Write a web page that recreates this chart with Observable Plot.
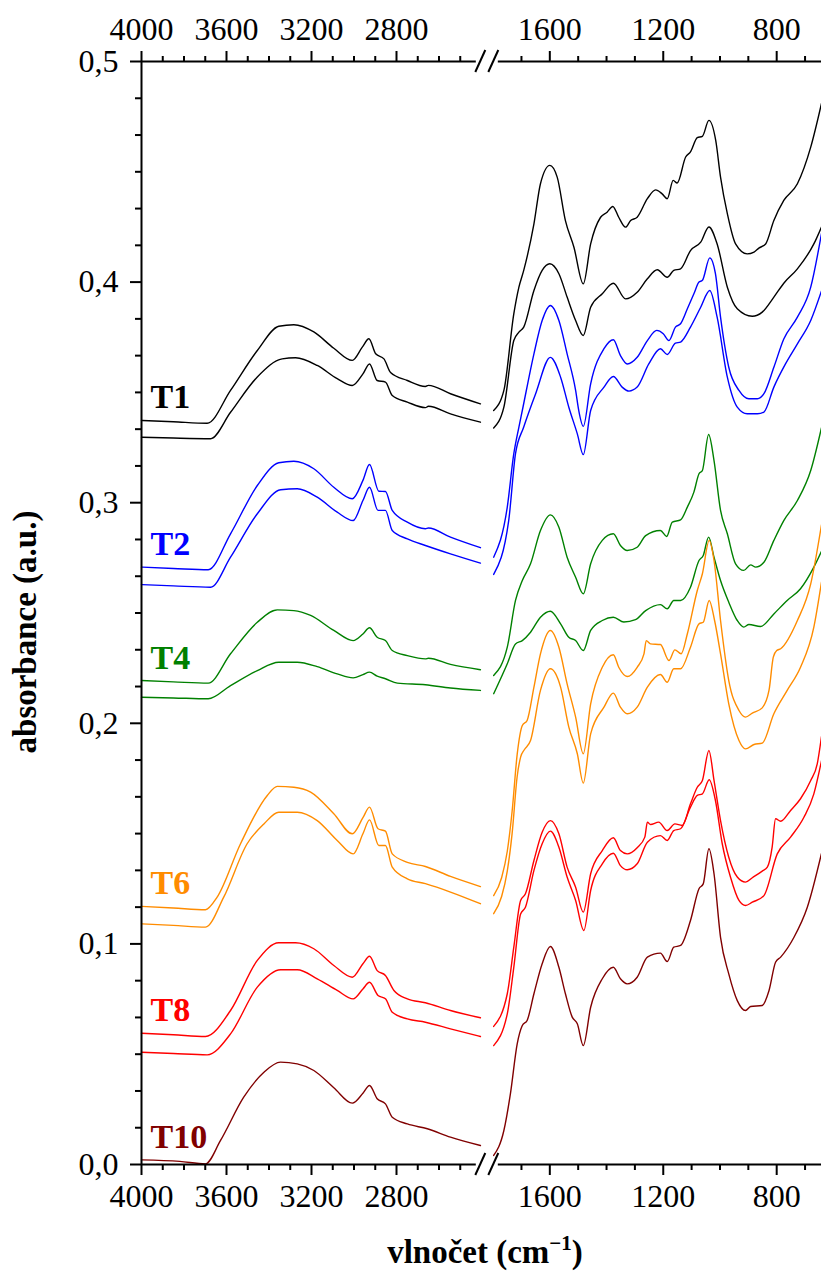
<!DOCTYPE html>
<html><head><meta charset="utf-8">
<script src="https://cdn.jsdelivr.net/npm/d3@7"></script>
<script src="https://cdn.jsdelivr.net/npm/@observablehq/plot@0.6"></script>
<style>
body{margin:0;background:#fff}
#chart{width:821px;height:1279px}
</style>
</head><body><div id="chart"></div>
<script>
// ---------- categories / ticks ----------
const samples = ["T1", "T2", "T4", "T6", "T8", "T10"];
const sampleColors = ["#000000", "#0000ff", "#008000", "#ff8c00", "#ff0000", "#800000"];
const xTicksMajor = [4000, 3600, 3200, 2800, 1600, 1200, 800];
const xTicksMinor = [3900, 3800, 3700, 3500, 3400, 3300, 3100, 3000, 2900, 2700, 2600, 2500, 1700, 1500, 1400, 1300, 1100, 1000, 900, 700];
const yTicksMajor = [0, 0.1, 0.2, 0.3, 0.4, 0.5];
const leftPanel = [4000, 2400];
const rightPanel = [1800, 642];

// ---------- spectra: [wavenumber, absorbance] ----------
const T1a_L = [[4000,0.3373],[3850,0.3367],[3691,0.3360],[3581,0.3509],[3455,0.3690],[3354,0.3800],[3283,0.3807],[3189,0.3774],[3095,0.3700],[3008,0.3645],[2961,0.3705],[2930,0.3743],[2898,0.3675],[2859,0.3652],[2828,0.3590],[2749,0.3554],[2664,0.3527],[2650,0.3532],[2546,0.3494],[2405,0.3448]];
const T1b_L = [[4000,0.3297],[3850,0.3293],[3675,0.3290],[3581,0.3410],[3455,0.3570],[3338,0.3652],[3275,0.3657],[3173,0.3622],[3079,0.3562],[3008,0.3531],[2958,0.3584],[2927,0.3629],[2891,0.3554],[2852,0.3547],[2820,0.3486],[2749,0.3456],[2664,0.3431],[2650,0.3437],[2546,0.3403],[2405,0.3365]];
const T2a_L = [[4000,0.2708],[3850,0.2702],[3686,0.2696],[3581,0.2859],[3455,0.3078],[3354,0.3181],[3283,0.3188],[3189,0.3154],[3095,0.3070],[3008,0.3018],[2958,0.3101],[2927,0.3173],[2883,0.3052],[2852,0.3051],[2820,0.2965],[2749,0.2912],[2664,0.2882],[2650,0.2885],[2546,0.2844],[2405,0.2796]];
const T2b_L = [[4000,0.2629],[3850,0.2623],[3675,0.2617],[3581,0.2753],[3455,0.2950],[3345,0.3059],[3267,0.3063],[3173,0.3025],[3079,0.2957],[3004,0.2919],[2958,0.3010],[2927,0.3070],[2887,0.2965],[2852,0.2965],[2820,0.2874],[2749,0.2836],[2664,0.2806],[2546,0.2768],[2405,0.2726]];
const T4a_L = [[4000,0.2194],[3850,0.2188],[3686,0.2182],[3581,0.2315],[3455,0.2458],[3361,0.2514],[3283,0.2511],[3204,0.2489],[3095,0.2421],[3004,0.2375],[2958,0.2405],[2927,0.2433],[2891,0.2390],[2852,0.2375],[2820,0.2330],[2749,0.2307],[2664,0.2292],[2650,0.2295],[2546,0.2267],[2405,0.2243]];
const T4b_L = [[4000,0.2118],[3850,0.2115],[3686,0.2111],[3581,0.2171],[3455,0.2239],[3354,0.2277],[3267,0.2277],[3173,0.2257],[3079,0.2224],[3004,0.2206],[2958,0.2221],[2927,0.2232],[2891,0.2214],[2852,0.2202],[2796,0.2182],[2664,0.2175],[2546,0.2160],[2405,0.2149]];
const T6a_L = [[4000,0.1170],[3850,0.1163],[3699,0.1155],[3644,0.1212],[3534,0.1454],[3408,0.1673],[3361,0.1714],[3283,0.1710],[3204,0.1688],[3095,0.1590],[3008,0.1499],[2958,0.1572],[2927,0.1620],[2887,0.1522],[2852,0.1511],[2820,0.1408],[2749,0.1370],[2664,0.1351],[2546,0.1306],[2405,0.1260]];
const T6b_L = [[4000,0.1091],[3850,0.1084],[3699,0.1076],[3613,0.1212],[3503,0.1454],[3424,0.1544],[3354,0.1597],[3267,0.1597],[3173,0.1559],[3079,0.1469],[3004,0.1408],[2958,0.1499],[2927,0.1562],[2883,0.1446],[2852,0.1446],[2820,0.1348],[2749,0.1295],[2664,0.1273],[2546,0.1235],[2405,0.1182]];
const T8a_L = [[4000,0.0595],[3850,0.0588],[3699,0.0580],[3581,0.0698],[3455,0.0925],[3354,0.1005],[3275,0.1005],[3189,0.0978],[3095,0.0902],[3008,0.0849],[2958,0.0910],[2927,0.0944],[2891,0.0879],[2852,0.0857],[2812,0.0789],[2749,0.0751],[2664,0.0733],[2546,0.0698],[2405,0.0665]];
const T8b_L = [[4000,0.0509],[3850,0.0503],[3691,0.0497],[3581,0.0592],[3455,0.0804],[3345,0.0883],[3267,0.0883],[3173,0.0842],[3079,0.0789],[3004,0.0751],[2958,0.0796],[2927,0.0826],[2887,0.0766],[2852,0.0751],[2820,0.0690],[2749,0.0660],[2664,0.0645],[2546,0.0615],[2405,0.0580]];
const T10_L = [[4000,0.0021],[3820,0.0014],[3699,0.0003],[3628,0.0109],[3519,0.0305],[3424,0.0418],[3346,0.0464],[3267,0.0456],[3189,0.0426],[3095,0.0348],[3008,0.0278],[2958,0.0323],[2927,0.0358],[2891,0.0298],[2852,0.0275],[2820,0.0214],[2749,0.0184],[2655,0.0162],[2546,0.0124],[2405,0.0086]];

const T1a_R = [[1798,0.3418],[1762,0.3509],[1727,0.3856],[1709,0.3977],[1692,0.4053],[1656,0.4264],[1633,0.4446],[1600,0.4529],[1574,0.4476],[1545,0.4279],[1515,0.4158],[1482,0.3992],[1456,0.4173],[1421,0.4294],[1398,0.4317],[1378,0.4343],[1357,0.4294],[1333,0.4249],[1315,0.4279],[1292,0.4294],[1256,0.4378],[1227,0.4418],[1204,0.4400],[1186,0.4378],[1165,0.4461],[1151,0.4449],[1121,0.4567],[1104,0.4590],[1080,0.4655],[1062,0.4661],[1039,0.4733],[1015,0.4642],[998,0.4476],[974,0.4310],[945,0.4173],[904,0.4128],[880,0.4136],[863,0.4154],[839,0.4173],[810,0.4279],[775,0.4370],[727,0.4446],[680,0.4612],[642,0.4810]];
const T1b_R = [[1798,0.3339],[1762,0.3433],[1727,0.3735],[1709,0.3773],[1692,0.3796],[1656,0.3962],[1627,0.4053],[1600,0.4083],[1568,0.4038],[1539,0.3932],[1509,0.3826],[1482,0.3758],[1456,0.3886],[1415,0.3947],[1376,0.3995],[1333,0.3924],[1292,0.3954],[1256,0.4015],[1221,0.4056],[1186,0.4022],[1163,0.4053],[1139,0.4060],[1104,0.4143],[1068,0.4181],[1039,0.4250],[1010,0.4173],[974,0.3977],[939,0.3879],[886,0.3845],[851,0.3864],[810,0.3932],[775,0.3995],[727,0.4060],[669,0.4173],[642,0.4250]];
const T2a_R = [[1798,0.2753],[1750,0.2980],[1727,0.3222],[1709,0.3343],[1697,0.3418],[1656,0.3675],[1627,0.3826],[1598,0.3894],[1568,0.3826],[1539,0.3675],[1509,0.3509],[1498,0.3418],[1482,0.3346],[1456,0.3539],[1409,0.3698],[1376,0.3739],[1351,0.3667],[1327,0.3629],[1292,0.3659],[1256,0.3735],[1223,0.3781],[1200,0.3766],[1180,0.3735],[1157,0.3796],[1139,0.3811],[1115,0.3879],[1092,0.3947],[1074,0.4000],[1062,0.4008],[1036,0.4110],[1016,0.4038],[998,0.3841],[969,0.3614],[933,0.3509],[898,0.3471],[868,0.3471],[845,0.3494],[810,0.3614],[775,0.3742],[727,0.3841],[680,0.3977],[642,0.4220]];
const T2b_R = [[1798,0.2675],[1745,0.2919],[1721,0.3222],[1692,0.3343],[1650,0.3494],[1598,0.3659],[1562,0.3569],[1533,0.3433],[1503,0.3312],[1482,0.3218],[1456,0.3418],[1409,0.3524],[1376,0.3572],[1345,0.3524],[1321,0.3506],[1292,0.3524],[1251,0.3629],[1210,0.3698],[1186,0.3672],[1157,0.3723],[1139,0.3728],[1104,0.3796],[1068,0.3886],[1036,0.3962],[1010,0.3841],[974,0.3569],[939,0.3433],[904,0.3403],[868,0.3403],[845,0.3411],[810,0.3524],[769,0.3629],[727,0.3720],[680,0.3826],[642,0.3960]];
const T4a_R = [[1798,0.2217],[1750,0.2345],[1721,0.2557],[1697,0.2647],[1668,0.2723],[1633,0.2874],[1598,0.2945],[1568,0.2889],[1539,0.2753],[1509,0.2662],[1482,0.2587],[1456,0.2723],[1415,0.2829],[1376,0.2859],[1351,0.2806],[1327,0.2783],[1292,0.2798],[1262,0.2851],[1210,0.2874],[1188,0.2847],[1168,0.2912],[1139,0.2922],[1115,0.2980],[1092,0.3048],[1074,0.3131],[1062,0.3146],[1040,0.3309],[1021,0.3191],[998,0.2965],[974,0.2859],[945,0.2723],[916,0.2693],[892,0.2718],[874,0.2708],[845,0.2730],[810,0.2829],[775,0.2919],[727,0.3010],[680,0.3146],[642,0.3340]];
const T4b_R = [[1798,0.2134],[1750,0.2270],[1721,0.2360],[1697,0.2375],[1668,0.2413],[1633,0.2481],[1598,0.2508],[1562,0.2451],[1533,0.2390],[1509,0.2375],[1482,0.2330],[1456,0.2421],[1415,0.2466],[1376,0.2481],[1339,0.2459],[1298,0.2470],[1262,0.2511],[1210,0.2538],[1186,0.2519],[1163,0.2557],[1139,0.2557],[1104,0.2617],[1074,0.2738],[1059,0.2761],[1040,0.2844],[1021,0.2753],[998,0.2647],[969,0.2549],[939,0.2466],[916,0.2436],[898,0.2448],[857,0.2439],[810,0.2496],[763,0.2557],[716,0.2610],[669,0.2708],[642,0.2780]];
const T6a_R = [[1798,0.1219],[1770,0.1300],[1750,0.1420],[1733,0.1600],[1715,0.1860],[1697,0.1990],[1680,0.2013],[1656,0.2164],[1633,0.2315],[1598,0.2421],[1568,0.2345],[1539,0.2179],[1509,0.2028],[1482,0.1862],[1456,0.2088],[1415,0.2254],[1376,0.2311],[1357,0.2254],[1327,0.2212],[1292,0.2254],[1268,0.2315],[1260,0.2375],[1245,0.2360],[1210,0.2357],[1180,0.2285],[1159,0.2333],[1137,0.2315],[1115,0.2406],[1080,0.2602],[1062,0.2678],[1038,0.2829],[1021,0.2738],[998,0.2466],[969,0.2194],[933,0.2058],[910,0.2028],[886,0.2046],[851,0.2070],[827,0.2150],[812,0.2300],[800,0.2330],[786,0.2338],[727,0.2466],[680,0.2632],[642,0.2900]];
const T6b_R = [[1798,0.1137],[1770,0.1215],[1750,0.1330],[1733,0.1500],[1715,0.1760],[1703,0.1847],[1690,0.1880],[1668,0.1922],[1633,0.2149],[1598,0.2247],[1562,0.2164],[1533,0.1983],[1503,0.1862],[1482,0.1729],[1456,0.1952],[1409,0.2073],[1376,0.2137],[1351,0.2073],[1327,0.2043],[1292,0.2073],[1256,0.2164],[1210,0.2221],[1186,0.2186],[1163,0.2247],[1139,0.2247],[1104,0.2345],[1074,0.2451],[1059,0.2458],[1038,0.2557],[1019,0.2466],[998,0.2315],[969,0.2088],[933,0.1922],[910,0.1884],[880,0.1904],[851,0.1910],[810,0.2043],[763,0.2149],[716,0.2254],[669,0.2436],[642,0.2640]];
const T8a_R = [[1798,0.0626],[1750,0.0774],[1727,0.0985],[1703,0.1197],[1686,0.1227],[1656,0.1378],[1627,0.1506],[1598,0.1559],[1568,0.1499],[1539,0.1348],[1509,0.1257],[1482,0.1144],[1456,0.1318],[1415,0.1423],[1376,0.1481],[1351,0.1423],[1327,0.1408],[1292,0.1436],[1265,0.1484],[1256,0.1552],[1245,0.1541],[1216,0.1552],[1186,0.1514],[1159,0.1544],[1133,0.1537],[1104,0.1635],[1080,0.1710],[1062,0.1741],[1039,0.1877],[1021,0.1741],[998,0.1559],[969,0.1393],[939,0.1303],[910,0.1280],[886,0.1300],[851,0.1330],[833,0.1348],[816,0.1439],[804,0.1567],[786,0.1556],[751,0.1605],[716,0.1658],[680,0.1741],[657,0.1816],[642,0.1940]];
const T8b_R = [[1798,0.0539],[1750,0.0683],[1727,0.0894],[1703,0.1136],[1686,0.1166],[1656,0.1333],[1627,0.1454],[1598,0.1511],[1568,0.1438],[1539,0.1303],[1509,0.1197],[1480,0.1061],[1456,0.1242],[1415,0.1363],[1376,0.1411],[1351,0.1355],[1327,0.1336],[1292,0.1363],[1256,0.1461],[1210,0.1491],[1186,0.1469],[1163,0.1514],[1139,0.1522],[1104,0.1620],[1080,0.1673],[1062,0.1680],[1038,0.1744],[1016,0.1650],[992,0.1454],[963,0.1303],[933,0.1197],[910,0.1174],[886,0.1189],[845,0.1219],[798,0.1408],[751,0.1484],[704,0.1574],[669,0.1680],[642,0.1830]];
const T10_R = [[1798,0.0041],[1762,0.0154],[1739,0.0320],[1715,0.0547],[1697,0.0630],[1680,0.0653],[1656,0.0774],[1627,0.0910],[1598,0.0988],[1568,0.0894],[1545,0.0774],[1521,0.0668],[1503,0.0638],[1482,0.0539],[1456,0.0713],[1415,0.0842],[1376,0.0894],[1351,0.0842],[1327,0.0819],[1292,0.0849],[1256,0.0940],[1210,0.0958],[1186,0.0920],[1163,0.0985],[1139,0.0993],[1104,0.1106],[1074,0.1250],[1059,0.1272],[1039,0.1431],[1021,0.1318],[998,0.1030],[969,0.0864],[939,0.0743],[910,0.0698],[892,0.0716],[851,0.0721],[827,0.0789],[804,0.0917],[786,0.0940],[739,0.1030],[692,0.1166],[642,0.1410]];

// ---------- assemble ----------
const curves = [
  {sample: "T1", segs: [T1a_L, T1a_R]}, {sample: "T1", segs: [T1b_L, T1b_R]},
  {sample: "T2", segs: [T2a_L, T2a_R]}, {sample: "T2", segs: [T2b_L, T2b_R]},
  {sample: "T4", segs: [T4a_L, T4a_R]}, {sample: "T4", segs: [T4b_L, T4b_R]},
  {sample: "T6", segs: [T6a_L, T6a_R]}, {sample: "T6", segs: [T6b_L, T6b_R]},
  {sample: "T8", segs: [T8a_L, T8a_R]}, {sample: "T8", segs: [T8b_L, T8b_R]},
  {sample: "T10", segs: [T10_L, T10_R]}
];
const colorOf = s => sampleColors[samples.indexOf(s)];
const FONT = "'Liberation Serif', 'Times New Roman', serif";

const lineMarks = [];
for (const c of curves) {
  for (const seg of c.segs) {
    lineMarks.push(Plot.line(seg, {x: d => d[0], y: d => d[1], stroke: colorOf(c.sample), strokeWidth: 1.4, curve: "monotone-x"}));
  }
}
const labelMarks = samples.map(s => {
  const first = curves.find(c => c.sample === s).segs[0][0];
  return Plot.text([first], {x: d => d[0], y: d => d[1], text: () => s, fill: colorOf(s), dx: 9, dy: -12,
    textAnchor: "start", lineAnchor: "bottom", fontSize: 34, fontWeight: "bold", fontFamily: FONT});
});

const yTicksMinor = d3.range(0, 31).filter(i => i % 6 !== 0).map(i => i / 60);
const fmtY = d => d.toFixed(1).replace(".", ",");

const chart = Plot.plot({
  width: 821, height: 1279,
  marginTop: 61, marginBottom: 115, marginLeft: 141, marginRight: 0,
  style: {fontFamily: FONT, fontSize: "32px", background: "#fff", color: "#000", overflow: "visible"},
  x: {type: "linear", domain: [leftPanel[0], leftPanel[1], rightPanel[0], rightPanel[1]], range: [141, 481, 492.6, 821]},
  y: {domain: [0, 0.5]},
  marks: [
    ...lineMarks,
    ...labelMarks,
    Plot.ruleY([0, 0.5], {x1: leftPanel[0], x2: leftPanel[1], strokeWidth: 2}),
    Plot.ruleY([0, 0.5], {x1: rightPanel[0], x2: rightPanel[1], strokeWidth: 2}),
    Plot.ruleX([leftPanel[0]], {y1: 0, y2: 0.5, strokeWidth: 2}),
    Plot.axisX(xTicksMajor, {anchor: "top", tickSize: 11, tickPadding: 11, strokeWidth: 2, tickFormat: d => String(d), label: null, fontSize: 32}),
    Plot.axisX(xTicksMinor, {anchor: "top", tickSize: 6, strokeWidth: 2, fill: null, label: null}),
    Plot.axisX(xTicksMajor, {anchor: "bottom", tickSize: 11, tickPadding: 9, strokeWidth: 2, tickFormat: d => String(d), label: null, fontSize: 32}),
    Plot.axisX(xTicksMinor, {anchor: "bottom", tickSize: 6, strokeWidth: 2, fill: null, label: null}),
    Plot.axisY(yTicksMajor, {anchor: "left", tickSize: 11, tickPadding: 12, strokeWidth: 2, tickFormat: fmtY, label: null, fontSize: 32}),
    Plot.axisY(yTicksMinor, {anchor: "left", tickSize: 6, strokeWidth: 2, fill: null, label: null})
  ]
});
document.getElementById("chart").appendChild(chart);

// ---------- axis break marks and axis titles ----------
const svg = d3.select(chart);
const xs = chart.scale("x"), ys = chart.scale("y");
const xb = (xs.apply(leftPanel[1]) + xs.apply(rightPanel[0])) / 2;
for (const v of [0, 0.5]) {
  const yy = ys.apply(v);
  svg.append("rect").attr("x", xb - 11).attr("y", yy - 3).attr("width", 22).attr("height", 6).attr("fill", "#fff");
  for (const off of [-6.5, 6.5]) {
    svg.append("line").attr("x1", xb + off - 5).attr("y1", yy + 11).attr("x2", xb + off + 5).attr("y2", yy - 11)
      .attr("stroke", "#000").attr("stroke-width", 2);
  }
}
const xt = svg.append("text").attr("x", 485).attr("y", 1263).attr("text-anchor", "middle")
  .attr("font-family", FONT).attr("font-size", 33).attr("font-weight", "bold").attr("fill", "#000");
xt.append("tspan").text("vlnočet (cm");
xt.append("tspan").attr("dy", -13).attr("font-size", 21).text("\u22121");
xt.append("tspan").attr("dy", 13).text(")");
svg.append("text").attr("transform", "translate(36,632) rotate(-90)").attr("text-anchor", "middle")
  .attr("font-family", FONT).attr("font-size", 33).attr("font-weight", "bold").attr("fill", "#000")
  .text("absorbance (a.u.)");
</script>
</body></html>
